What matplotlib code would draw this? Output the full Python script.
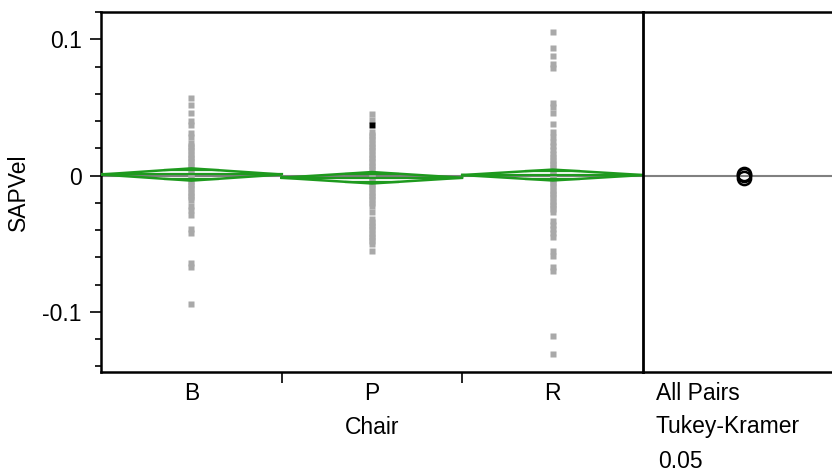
import numpy as np
import matplotlib.pyplot as plt
from matplotlib.ticker import MultipleLocator

# Oneway analysis of SAPVel by Chair (means diamonds + comparison circles)

chairs = ['B', 'P', 'R']

B_vals = [0.057, 0.052, 0.046, 0.040, 0.037, 0.031, 0.028,
          0.024, 0.022, 0.020, 0.018, 0.016, 0.014, 0.012, 0.010, 0.008,
          0.006, 0.004, 0.002, 0.0, -0.002, -0.004, -0.006, -0.008, -0.010,
          -0.012, -0.014, -0.016, -0.018,
          -0.022, -0.025, -0.029, -0.039, -0.042, -0.064, -0.067, -0.094]
P_vals = [0.045, 0.041,
          0.032, 0.030, 0.028, 0.026, 0.024, 0.022, 0.020, 0.018, 0.016,
          0.014, 0.012, 0.010, 0.008, 0.006, 0.004, 0.002, 0.0, -0.002,
          -0.004, -0.006, -0.008, -0.010, -0.012, -0.014, -0.016, -0.018,
          -0.020, -0.0225,
          -0.027,
          -0.032, -0.034, -0.036, -0.038, -0.040, -0.042, -0.044, -0.046,
          -0.048, -0.050, -0.055]
P_highlight = [0.037]
R_vals = [0.1055, 0.094, 0.088, 0.082, 0.079, 0.053, 0.050, 0.046, 0.038,
          0.032, 0.028, 0.025, 0.022, 0.019,
          0.0155, 0.0135, 0.0115, 0.0095, 0.0075, 0.0055, 0.0035, 0.0015,
          -0.0005, -0.0025, -0.0045, -0.0065, -0.0085, -0.0105, -0.0125,
          -0.0145, -0.0165, -0.0185, -0.0205, -0.0225, -0.0245,
          -0.027, -0.033, -0.036, -0.039, -0.042, -0.045, -0.055, -0.059,
          -0.067, -0.070, -0.118, -0.131]

means = [0.0008, -0.0016, 0.0004]
ci_half = [0.0045, 0.0042, 0.0040]
grand_mean = -0.0001

GREEN = '#1E9A1E'
GRAY_PT = '#A9A9A9'

plt.rcParams['font.family'] = ['Liberation Sans', 'DejaVu Sans']
plt.rcParams['font.size'] = 16.5

fig = plt.figure(figsize=(8.32, 4.75), dpi=100)
ax = fig.add_axes([101 / 832, 1 - 372 / 475, 542 / 832, 360 / 475])
ax2 = fig.add_axes([643 / 832, 1 - 372 / 475, 200 / 832, 360 / 475], sharey=ax)

ylo, yhi = -0.1442, 0.1201

# grand mean line
ax.axhline(grand_mean, color='#808080', lw=1.5, zorder=1)
ax2.axhline(grand_mean, color='#808080', lw=1.5, zorder=1)

groups = [B_vals, P_vals, R_vals]
for i, vals in enumerate(groups):
    xc = i + 0.5
    ax.plot([xc] * len(vals), vals, 's', ms=3.9, color=GRAY_PT, mec='none', zorder=2)
    m, h = means[i], ci_half[i]
    # means diamond
    ax.plot([i, xc, i + 1, xc, i], [m, m + h, m, m - h, m], color=GREEN, lw=1.8, zorder=3)
    ax.plot([i, i + 1], [m, m], color=GREEN, lw=1.6, zorder=3)
    # overlap marks
    d = h / np.sqrt(2)
    hw = 0.5 * (1 - 1 / np.sqrt(2))
    ax.plot([xc - hw, xc + hw], [m + d, m + d], color=GREEN, lw=1.6, zorder=3)
    ax.plot([xc - hw, xc + hw], [m - d, m - d], color=GREEN, lw=1.6, zorder=3)

ax.plot([1.5] * len(P_highlight), P_highlight, 's', ms=3.9, color='black', mec='none', zorder=4)

ax.set_xlim(0, 3)
ax.set_ylim(ylo, yhi)
ax.set_xticks([1, 2])
ax.set_xticklabels([])
ax.set_xticks([0.5, 1.5, 2.5], labels=chairs, minor=True)
ax.tick_params(axis='x', which='minor', length=0, pad=7)
ax.tick_params(axis='x', which='major', direction='out', length=8, width=1.2)
ax.yaxis.set_major_locator(MultipleLocator(0.1))
ax.yaxis.set_minor_locator(MultipleLocator(0.02))
ax.set_yticks([-0.1, 0, 0.1])
ax.set_yticklabels(['-0.1', '0', '0.1'])
ax.tick_params(axis='y', which='major', direction='out', length=8, width=1.2, pad=6)
ax.tick_params(axis='y', which='minor', direction='out', length=4, width=1.2)
ax.set_xlabel('Chair', labelpad=8)
ax.set_ylabel('SAPVel', labelpad=9)
for s in ax.spines.values():
    s.set_linewidth(1.8)
ax.spines['right'].set_visible(False)

# comparison circles
ax2.set_xlim(0, 1)
ax2.plot([0.505] * 3, means, 'o', ms=9.5, mfc='none', mec='black', mew=1.8, zorder=3)
ax2.tick_params(which='both', left=False, labelleft=False, bottom=False, labelbottom=False)
ax2.spines['left'].set_linewidth(2)
ax2.spines['right'].set_visible(False)
ax2.spines['top'].set_linewidth(1.8)
ax2.spines['bottom'].set_linewidth(1.8)

fig.text(656 / 832, 1 - 393 / 475, 'All Pairs', va='center', ha='left')
fig.text(656 / 832, 1 - 427 / 475, 'Tukey-Kramer', va='center', ha='left')
fig.text(658 / 832, 1 - 462 / 475, '0.05', va='center', ha='left')

fig.savefig('out.png', dpi=100)
